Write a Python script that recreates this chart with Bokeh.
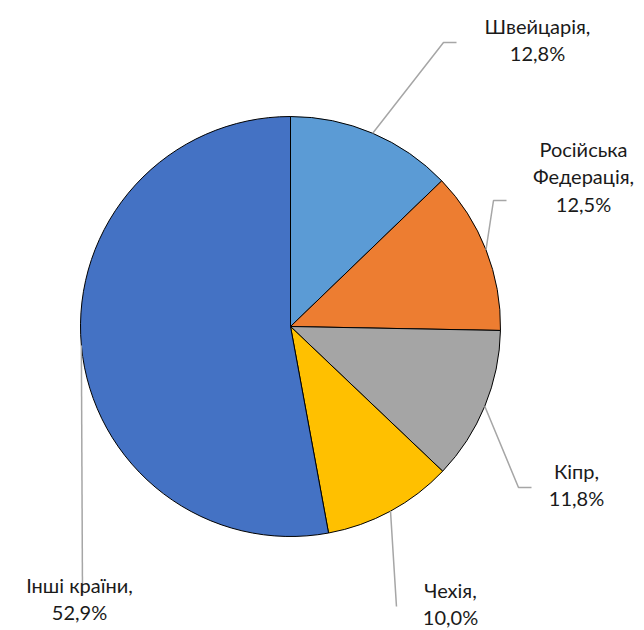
import math
from bokeh.plotting import figure
from bokeh.models import Range1d, ColumnDataSource
from bokeh.core.properties import value
from bokeh.embed import file_html
from bokeh.resources import INLINE

# ---- data ----
countries = ["Швейцарія", "Російська Федерація", "Кіпр", "Чехія", "Інші країни"]
label_lines = [["Швейцарія,"], ["Російська", "Федерація,"], ["Кіпр,"], ["Чехія,"], ["Інші країни,"]]
shares = [12.8, 12.5, 11.8, 10.0, 52.9]
share_texts = ["12,8%", "12,5%", "11,8%", "10,0%", "52,9%"]
colors = ["#5B9BD5", "#ED7D31", "#A5A5A5", "#FFC000", "#4472C4"]

# ---- layout (screen pixel coordinates) ----
W, H = 644, 630
CX, CY, R = 290, 326, 210
# label block centers (x, y of first line)
label_pos = [(537, 25), (583, 148), (576, 470), (450, 589), (79, 584)]
LINE_H = 27.5
# leader line elbow / end points
leader_pts = [
    [(443, 42), (456, 42)],
    [(493, 200), (506, 200)],
    [(518, 487), (531, 487)],
    [(396, 606)],
    [(82, 595)],
]

p = figure(width=W, height=H, output_backend="svg", toolbar_location=None,
           x_range=Range1d(0, W), y_range=Range1d(-H, 0),
           min_border=0, outline_line_color=None)
p.xaxis.visible = False
p.yaxis.visible = False
p.grid.visible = False
p.background_fill_color = "white"
p.border_fill_color = "white"

total = sum(shares)
starts, ends, mids = [], [], []
acc = 0.0
for s in shares:
    a0 = math.pi / 2 - 2 * math.pi * acc / total
    acc += s
    a1 = math.pi / 2 - 2 * math.pi * acc / total
    starts.append(a0)
    ends.append(a1)
    mids.append((a0 + a1) / 2)

src = ColumnDataSource(dict(start=starts, end=ends, color=colors, name=countries))
p.wedge(x=CX, y=-CY, radius=R, start_angle="start", end_angle="end", direction="clock",
        fill_color="color", line_color="black", line_width=1, source=src)

# leader lines
xs, ys = [], []
for m, pts in zip(mids, leader_pts):
    ex = CX + R * math.cos(m)
    ey = CY - R * math.sin(m)
    lx = [ex] + [q[0] for q in pts]
    ly = [-ey] + [-q[1] for q in pts]
    xs.append(lx)
    ys.append(ly)
p.multi_line(xs=xs, ys=ys, line_color="#A6A6A6", line_width=1.5)

# labels
tx, ty, tt = [], [], []
for lines, st, (lx, ly) in zip(label_lines, share_texts, label_pos):
    all_lines = lines + [st]
    for i, t in enumerate(all_lines):
        tx.append(lx)
        ty.append(-(ly + i * LINE_H))
        tt.append(t)
p.text(x=tx, y=ty, text=tt, text_align="center", text_baseline="middle",
       text_font=value("Lato"), text_font_size="20px", text_color="#1a1a1a")

open("out.html", "w").write(file_html(p, INLINE))
